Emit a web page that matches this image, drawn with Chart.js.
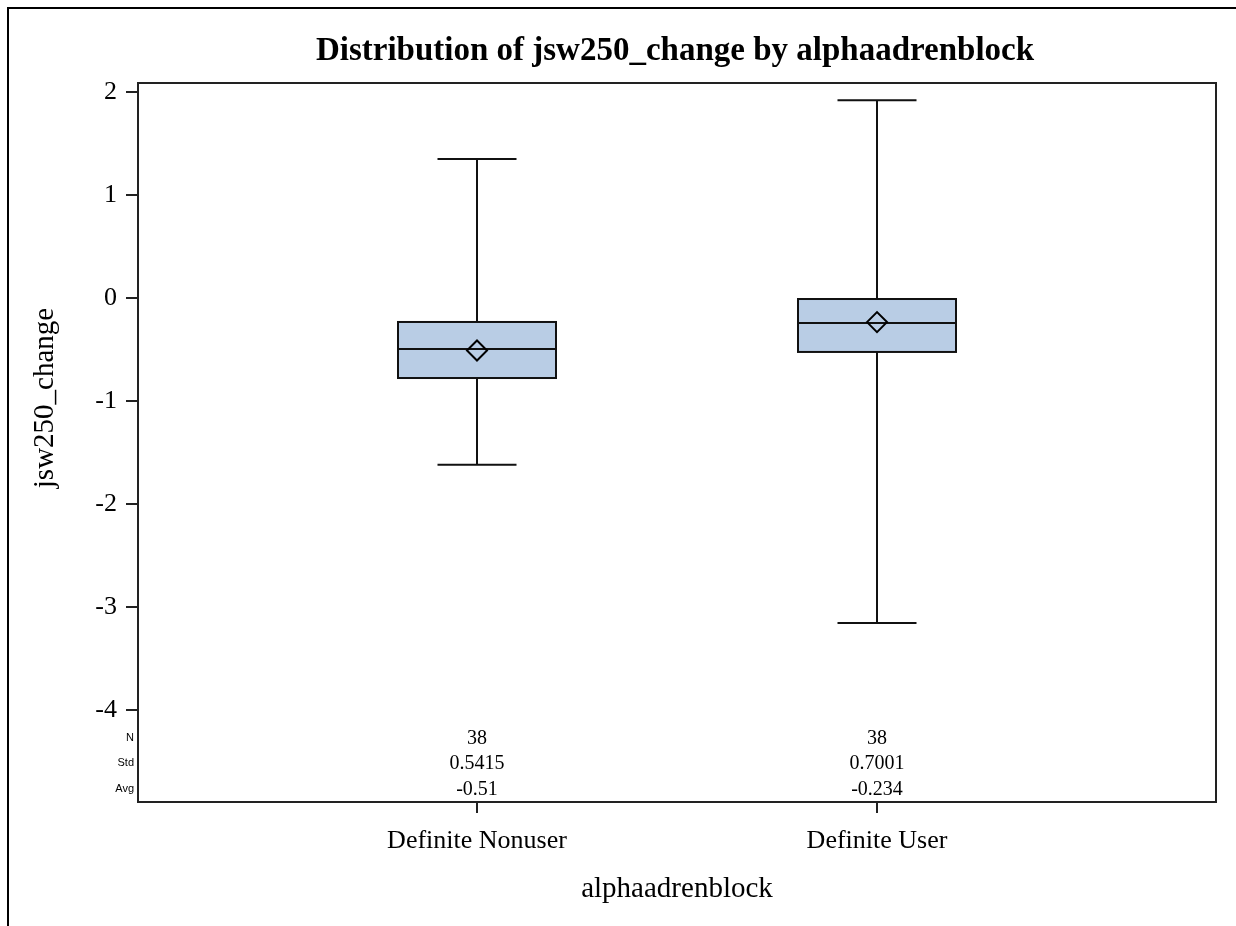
<!DOCTYPE html>
<html>
<head>
<meta charset="utf-8">
<script src="https://cdn.jsdelivr.net/npm/chart.js@4.4.1/dist/chart.umd.min.js"></script>
<style>
  html, body { margin: 0; padding: 0; background: #fff; }
  #wrap { width: 1236px; height: 926px; position: relative; }
</style>
</head>
<body>
<div id="wrap"><canvas id="c" width="1236" height="926"></canvas></div>
<script>
// ---- data ----
const categories   = ['Definite Nonuser', 'Definite User'];
const whiskerLow   = [-1.62, -3.155];
const q1           = [-0.777, -0.524];
const median       = [-0.495, -0.243];
const q3           = [-0.233, -0.01];
const whiskerHigh  = [1.35, 1.92];
const means        = [-0.51, -0.234];
const nObs         = ['38', '38'];
const stdDev       = ['0.5415', '0.7001'];
const avgText      = ['-0.51', '-0.234'];
const yTicks       = [-4, -3, -2, -1, 0, 1, 2];
const statLabels   = ['N', 'Std', 'Avg'];

const SERIF = '"Liberation Serif", "Times New Roman", serif';
const SANS = '"Liberation Sans", Arial, sans-serif';
const BOX_HALF = 0.1975;

const boxPlugin = {
  id: 'boxes',
  beforeDraw(chart) {
    const ctx = chart.ctx;
    ctx.save();
    ctx.fillStyle = '#fff';
    ctx.fillRect(0, 0, chart.width, chart.height);
    // outer frame (top and left visible)
    ctx.fillStyle = '#000';
    ctx.fillRect(7, 7, chart.width - 7, 2);
    ctx.fillRect(7, 7, 2, chart.height - 7);
    // title
    ctx.fillStyle = '#000';
    ctx.font = 'bold 33px ' + SERIF;
    ctx.textAlign = 'center';
    ctx.textBaseline = 'alphabetic';
    const ca = chart.chartArea;
    ctx.fillText('Distribution of jsw250_change by alphaadrenblock', (ca.left + ca.right) / 2 - 2, 60);
    // axis titles
    ctx.font = '29px ' + SERIF;
    ctx.fillText('alphaadrenblock', (ca.left + ca.right) / 2, 897);
    ctx.save();
    ctx.translate(53, 398);
    ctx.rotate(-Math.PI / 2);
    ctx.fillText('jsw250_change', 0, 0);
    ctx.restore();
    ctx.restore();
  },
  beforeDatasetsDraw(chart) {
    const ctx = chart.ctx;
    const xs = chart.scales.x, ys = chart.scales.y;
    ctx.save();
    ctx.strokeStyle = '#111';
    ctx.lineWidth = 2;
    categories.forEach((c, i) => {
      const xc = xs.getPixelForValue(i);
      const xl = xs.getPixelForValue(i - BOX_HALF);
      const xr = xs.getPixelForValue(i + BOX_HALF);
      const cl = xs.getPixelForValue(i - BOX_HALF / 2);
      const cr = xs.getPixelForValue(i + BOX_HALF / 2);
      const yq1 = ys.getPixelForValue(q1[i]);
      const yq3 = ys.getPixelForValue(q3[i]);
      const ym = ys.getPixelForValue(median[i]);
      const ylo = ys.getPixelForValue(whiskerLow[i]);
      const yhi = ys.getPixelForValue(whiskerHigh[i]);
      // whiskers
      ctx.beginPath();
      ctx.moveTo(xc, yq3); ctx.lineTo(xc, yhi);
      ctx.moveTo(cl, yhi); ctx.lineTo(cr, yhi);
      ctx.moveTo(xc, yq1); ctx.lineTo(xc, ylo);
      ctx.moveTo(cl, ylo); ctx.lineTo(cr, ylo);
      ctx.stroke();
      // box
      ctx.fillStyle = '#b9cde5';
      ctx.fillRect(xl, yq3, xr - xl, yq1 - yq3);
      ctx.strokeRect(xl, yq3, xr - xl, yq1 - yq3);
      // median
      ctx.beginPath();
      ctx.moveTo(xl, ym); ctx.lineTo(xr, ym);
      ctx.stroke();
    });
    // stats table
    const rows = [nObs, stdDev, avgText];
    const rowY = [738, 763, 789];
    ctx.fillStyle = '#000';
    rows.forEach((r, k) => {
      ctx.font = '20px ' + SERIF;
      ctx.textAlign = 'center';
      ctx.textBaseline = 'middle';
      r.forEach((t, i) => ctx.fillText(t, xs.getPixelForValue(i), rowY[k] + 1));
      ctx.font = '11px ' + SANS;
      ctx.textAlign = 'right';
      ctx.fillText(statLabels[k], chart.chartArea.left - 4, rowY[k]);
    });
    ctx.restore();
  },
  afterDatasetsDraw(chart) {
    const ctx = chart.ctx;
    const ca = chart.chartArea;
    ctx.save();
    ctx.strokeStyle = '#222';
    ctx.lineWidth = 2;
    ctx.strokeRect(ca.left, ca.top, ca.right - ca.left, ca.bottom - ca.top);
    ctx.restore();
  }
};

new Chart(document.getElementById('c'), {
  type: 'scatter',
  data: {
    datasets: [{
      label: 'Mean',
      data: means.map((m, i) => ({ x: i, y: m })),
      pointStyle: 'rectRot',
      pointRadius: 10,
      pointBorderWidth: 2,
      pointBorderColor: '#000',
      pointBackgroundColor: 'rgba(0,0,0,0)'
    }]
  },
  options: {
    responsive: false,
    animation: false,
    events: [],
    layout: { padding: { top: 83, right: 20, bottom: 0, left: 0 } },
    plugins: {
      legend: { display: false },
      tooltip: { enabled: false },
      title: { display: false }
    },
    scales: {
      x: {
        type: 'linear',
        min: -0.8475,
        max: 1.8475,
        afterFit(s) { s.height = 124; },
        afterBuildTicks(s) { s.ticks = categories.map((c, i) => ({ value: i })); },
        ticks: {
          callback: (v) => categories[v],
          font: { family: SERIF, size: 26 },
          color: '#000',
          padding: 13,
          maxRotation: 0
        },
        grid: { drawOnChartArea: false, drawTicks: true, tickLength: 11, color: '#222', lineWidth: 2 },
        border: { display: false }
      },
      y: {
        type: 'linear',
        min: -4.893,
        max: 2.087,
        afterFit(s) { s.width = 138; },
        afterBuildTicks(s) { s.ticks = yTicks.map(v => ({ value: v })); },
        ticks: {
          font: { family: SERIF, size: 26 },
          color: '#000',
          padding: 9
        },
        grid: { drawOnChartArea: false, drawTicks: true, tickLength: 12, color: '#222', lineWidth: 2 },
        border: { display: false }
      }
    }
  },
  plugins: [boxPlugin]
});
</script>
</body>
</html>
